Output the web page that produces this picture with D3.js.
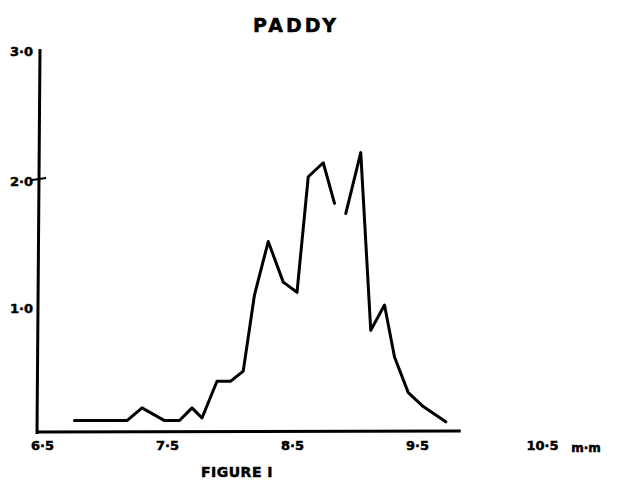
<!DOCTYPE html>
<html>
<head>
<meta charset="utf-8">
<script src="https://cdn.jsdelivr.net/npm/d3@7"></script>
<style>
  body { margin: 0; background: #fff; }
  text { font-family: "DejaVu Sans", sans-serif; font-weight: bold; fill: #000; stroke: #000; stroke-width: 0.5px; }
</style>
</head>
<body>
<svg id="chart" width="626" height="495"></svg>
<script>
// grain length (mm) vs frequency
var sizes = [6.76, 7.18, 7.30, 7.48, 7.60, 7.70, 7.78, 7.90, 8.01, 8.11, 8.20, 8.31, 8.43, 8.54,
             8.63, 8.75, 8.84, null, 8.93, 9.05, 9.13, 9.24, 9.32, 9.43, 9.55, 9.73];
var freq  = [0.09, 0.09, 0.19, 0.09, 0.09, 0.19, 0.11, 0.40, 0.40, 0.48, 1.08, 1.50, 1.18, 1.10,
             2.01, 2.12, 1.80, null, 1.72, 2.20, 0.80, 1.00, 0.59, 0.31, 0.20, 0.08];

var xTicks = [6.5, 7.5, 8.5, 9.5, 10.5];
var xTickLabels = ['6·5', '7·5', '8·5', '9·5', '10·5'];
var yTicks = [1, 2, 3];
var yTickLabels = ['1·0', '2·0', '3·0'];

var svg = d3.select('#chart');

var x = d3.scaleLinear().domain([6.5, 10.5]).range([42, 542]);
var y = d3.scaleLinear().domain([0, 3]).range([432, 51]);

// ----- axes lines (hand drawn look) -----
svg.append('line')
   .attr('x1', 40).attr('y1', y(3) - 2)
   .attr('x2', 37).attr('y2', y(0) + 2)
   .attr('stroke', '#000').attr('stroke-width', 3);

svg.append('line')
   .attr('x1', 36).attr('y1', y(0))
   .attr('x2', x(9.85)).attr('y2', y(0) - 1)
   .attr('stroke', '#000').attr('stroke-width', 3);

// small tick on the y axis at 2.0
svg.append('line')
   .attr('x1', 32).attr('y1', y(2) + 2)
   .attr('x2', 46).attr('y2', y(2))
   .attr('stroke', '#000').attr('stroke-width', 2);

// ----- tick labels -----
var xAxis = d3.axisBottom(x)
  .tickValues(xTicks)
  .tickSize(0)
  .tickPadding(9)
  .tickFormat(function(d, i) { return xTickLabels[i]; });

var gx = svg.append('g')
  .attr('transform', 'translate(0,' + y(0) + ')')
  .call(xAxis);
gx.select('.domain').remove();
gx.selectAll('text').style('font-size', '13px').style('font-family', '"DejaVu Sans", sans-serif');

var yAxis = d3.axisLeft(y)
  .tickValues(yTicks)
  .tickSize(0)
  .tickPadding(3)
  .tickFormat(function(d, i) { return yTickLabels[i]; });

var gy = svg.append('g')
  .attr('transform', 'translate(36,0)')
  .call(yAxis);
gy.select('.domain').remove();
gy.selectAll('text')
  .attr('dy', function(d) { return d === 3 ? '0.32em' : '0.55em'; })
  .style('font-size', '13px').style('font-family', '"DejaVu Sans", sans-serif');

// ----- the curve -----
var points = sizes.map(function(s, i) { return { s: s, f: freq[i] }; });

var line = d3.line()
  .defined(function(d) { return d.s !== null; })
  .x(function(d) { return x(d.s); })
  .y(function(d) { return y(d.f); });

svg.append('path')
   .datum(points)
   .attr('d', line)
   .attr('fill', 'none')
   .attr('stroke', '#000')
   .attr('stroke-width', 3)
   .attr('stroke-linejoin', 'round')
   .attr('stroke-linecap', 'round');

// ----- titles -----
svg.append('text')
   .attr('x', 296).attr('y', 32)
   .attr('text-anchor', 'middle')
   .style('font-size', '19px')
   .style('letter-spacing', '3px')
   .text('PADDY');

svg.append('text')
   .attr('x', 586).attr('y', 452)
   .attr('text-anchor', 'middle')
   .style('font-size', '12px')
   .text('m·m');

svg.append('text')
   .attr('x', 237).attr('y', 477)
   .attr('text-anchor', 'middle')
   .style('font-size', '14px')
   .style('letter-spacing', '0.5px')
   .text('FIGURE I');
</script>
</body>
</html>
